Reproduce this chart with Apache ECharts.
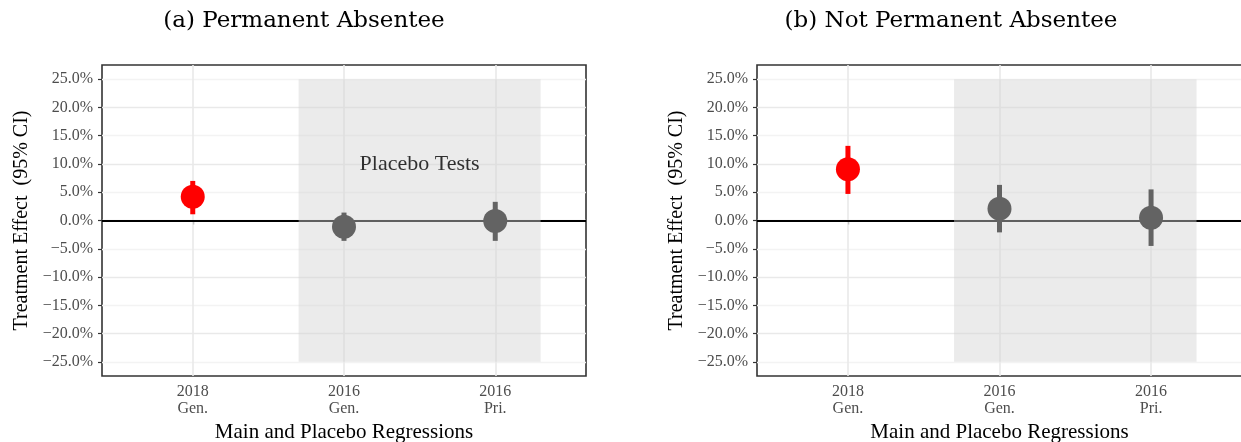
<!DOCTYPE html>
<html>
<head>
<meta charset="utf-8">
<script src="https://cdn.jsdelivr.net/npm/echarts@6/dist/echarts.min.js"></script>
<style>
html,body{margin:0;padding:0;background:#fff;}
#c{width:1241px;height:442px;}
</style>
</head>
<body>
<div id="c"></div>
<script>
// ---- data ----
const categoryLabels = ['2018\nGen.', '2016\nGen.', '2016\nPri.'];
const categoryPos = [1, 2, 3];
const isMain = [true, false, false];
const yTickValues = [-25, -20, -15, -10, -5, 0, 5, 10, 15, 20, 25];

const panelTitles = ['(a) Permanent Absentee', '(b) Not Permanent Absentee'];

// Permanent absentee: estimate, lower and upper CI (percent)
const permEst = [4.2, -1.1, -0.1];
const permLo  = [1.1, -3.6, -3.6];
const permHi  = [7.0, 1.4, 3.3];

// Not permanent absentee
const notPermEst = [9.05, 2.1, 0.5];
const notPermLo  = [4.7, -2.1, -4.5];
const notPermHi  = [13.2, 6.3, 5.5];

const placeboRange = [1.7, 3.3];
const placeboBand = [-25, 25];
const placeboLabel = 'Placebo Tests';
const placeboLabelPos = [2.5, 10];

const xTitle = 'Main and Placebo Regressions';
const yTitle = 'Treatment Effect  (95% CI)';

// ---- chart ----
const SERIF = '"Liberation Serif", "DejaVu Serif", serif';
const RED = '#FF0000', GREY = '#636363';
const chart = echarts.init(document.getElementById('c'), null, {renderer: 'canvas'});

const grids = [
  {left: 102, top: 65, width: 484, height: 311},
  {left: 757, top: 65, width: 485, height: 311}
];

function fmtPct(v) {
  return (v < 0 ? '\u2212' : '') + Math.abs(v).toFixed(1) + '%';
}

const xAxes = [], yAxes = [], series = [];
grids.forEach((g, i) => {
  xAxes.push({
    gridIndex: i, type: 'value', min: 0.4, max: 3.6,
    name: xTitle, nameLocation: 'middle', nameGap: 44,
    nameTextStyle: {fontFamily: SERIF, fontSize: 21, color: '#000'},
    axisLine: {show: false},
    axisTick: {show: true, customValues: categoryPos, length: 4, lineStyle: {color: '#333', width: 1.2}},
    axisLabel: {
      customValues: categoryPos, margin: 7,
      fontFamily: SERIF, fontSize: 16, color: '#4D4D4D', lineHeight: 17,
      formatter: v => categoryLabels[categoryPos.indexOf(Math.round(v))] || ''
    },
    splitLine: {show: false}
  });
  yAxes.push({
    gridIndex: i, type: 'value', min: -27.5, max: 27.5, interval: 2.5,
    name: yTitle, nameLocation: 'middle', nameGap: 70,
    nameTextStyle: {fontFamily: SERIF, fontSize: 20, color: '#000'},
    axisLine: {show: false},
    axisTick: {show: true, customValues: yTickValues, length: 4, lineStyle: {color: '#333', width: 1.2}},
    axisLabel: {
      customValues: yTickValues, margin: 9,
      fontFamily: SERIF, fontSize: 16, color: '#4D4D4D',
      formatter: v => fmtPct(v)
    },
    splitLine: {show: true, lineStyle: {color: ['#F3F3F3', '#E9E9E9'], width: 1.4}}
  });
});

function addPanel(i, est, lo, hi, withLabel) {
  // vertical gridlines + zero line
  series.push({
    type: 'scatter', xAxisIndex: i, yAxisIndex: i, data: [], silent: true,
    markLine: {
      silent: true, symbol: 'none', z: 1, animation: false,
      label: {show: false},
      data: categoryPos.map(v => ({xAxis: v, lineStyle: {color: '#E9E9E9', width: 1.6, type: 'solid'}}))
        .concat([{yAxis: 0, lineStyle: {color: '#000', width: 1.8, type: 'solid'}}])
    },
    markArea: {
      silent: true, z: 2, animation: false,
      itemStyle: {color: 'rgba(210,210,210,0.45)'},
      data: [[{xAxis: placeboRange[0], yAxis: placeboBand[0]}, {xAxis: placeboRange[1], yAxis: placeboBand[1]}]]
    }
  });
  // CI bars
  series.push({
    type: 'custom', xAxisIndex: i, yAxisIndex: i, z: 4, silent: true, animation: false,
    data: categoryPos.map((x, k) => [x, lo[k], hi[k], isMain[k] ? 1 : 0]),
    renderItem: (params, api) => {
      const p1 = api.coord([api.value(0), api.value(1)]);
      const p2 = api.coord([api.value(0), api.value(2)]);
      return {
        type: 'line',
        shape: {x1: p1[0], y1: p1[1], x2: p2[0], y2: p2[1]},
        style: {stroke: api.value(3) ? RED : GREY, lineWidth: 5}
      };
    }
  });
  // points
  series.push({
    type: 'scatter', xAxisIndex: i, yAxisIndex: i, z: 5, silent: true, animation: false,
    symbol: 'circle', symbolSize: 24,
    data: categoryPos.map((x, k) => ({value: [x, est[k]], itemStyle: {color: isMain[k] ? RED : GREY, opacity: 1}}))
  });
  if (withLabel) {
    series.push({
      type: 'scatter', xAxisIndex: i, yAxisIndex: i, z: 6, silent: true, animation: false,
      symbolSize: 1, itemStyle: {color: 'rgba(0,0,0,0)'},
      label: {show: true, position: 'inside', formatter: placeboLabel,
        fontFamily: SERIF, fontSize: 22, color: '#000'},
      data: [placeboLabelPos]
    });
  }
}
addPanel(0, permEst, permLo, permHi, true);
addPanel(1, notPermEst, notPermLo, notPermHi, false);

chart.setOption({
  animation: false,
  backgroundColor: '#fff',
  title: [
    {text: panelTitles[0], left: 299, top: 5, textAlign: 'center',
     textStyle: {fontFamily: '"DejaVu Serif", serif', fontSize: 23, fontWeight: 'normal', color: '#000'}},
    {text: panelTitles[1], left: 946, top: 5, textAlign: 'center',
     textStyle: {fontFamily: '"DejaVu Serif", serif', fontSize: 23, fontWeight: 'normal', color: '#000'}}
  ],
  grid: grids.map(g => Object.assign({show: true, borderColor: '#333', borderWidth: 1.6, backgroundColor: 'transparent', containLabel: false, outerBoundsMode: 'none'}, g)),
  xAxis: xAxes,
  yAxis: yAxes,
  series: series
});
</script>
</body>
</html>
